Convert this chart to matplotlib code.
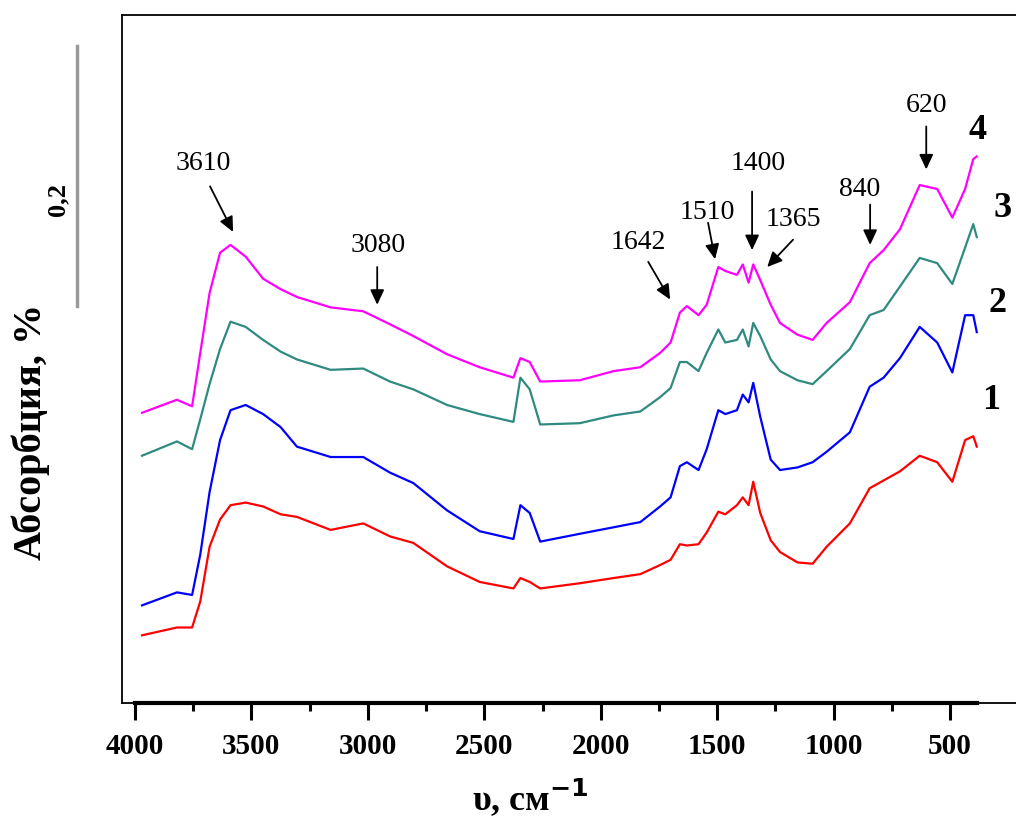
import matplotlib.pyplot as plt
import numpy as np

plt.rcParams['font.family'] = ['Liberation Serif', 'DejaVu Serif']

# волновые числа, см-1
nu = np.array([3970, 3820, 3755, 3720, 3680, 3635, 3590, 3525, 3450, 3375,
               3305, 3160, 3020, 2905, 2805, 2660, 2520, 2375, 2345, 2305,
               2260, 2090, 1945, 1830, 1745, 1700, 1660, 1630, 1580, 1545,
               1495, 1465, 1415, 1390, 1365, 1345, 1315, 1270, 1230, 1155,
               1090, 1030, 930, 845, 785, 715, 630, 555, 490, 435, 400, 385])

# спектры поглощения образцов 1-4
a1 = [0.052, 0.058, 0.058, 0.078, 0.120, 0.141, 0.152, 0.154, 0.151, 0.145,
      0.143, 0.133, 0.138, 0.128, 0.123, 0.105, 0.093, 0.088, 0.096, 0.093,
      0.088, 0.092, 0.096, 0.099, 0.106, 0.110, 0.122, 0.121, 0.122, 0.131,
      0.147, 0.145, 0.152, 0.158, 0.152, 0.170, 0.146, 0.125, 0.116, 0.108,
      0.107, 0.120, 0.138, 0.165, 0.171, 0.178, 0.190, 0.185, 0.170, 0.202,
      0.205, 0.197]
a2 = [0.075, 0.085, 0.083, 0.114, 0.162, 0.202, 0.225, 0.229, 0.222, 0.212,
      0.197, 0.189, 0.189, 0.177, 0.169, 0.148, 0.132, 0.126, 0.152, 0.146,
      0.124, 0.130, 0.135, 0.139, 0.151, 0.158, 0.182, 0.185, 0.179, 0.195,
      0.225, 0.222, 0.225, 0.237, 0.231, 0.246, 0.220, 0.187, 0.179, 0.181,
      0.185, 0.193, 0.208, 0.243, 0.250, 0.265, 0.289, 0.277, 0.254, 0.298,
      0.298, 0.285]
a3 = [0.190, 0.201, 0.195, 0.218, 0.245, 0.272, 0.293, 0.289, 0.279, 0.270,
      0.264, 0.256, 0.257, 0.247, 0.241, 0.229, 0.222, 0.216, 0.250, 0.241,
      0.214, 0.215, 0.221, 0.224, 0.235, 0.242, 0.262, 0.262, 0.255, 0.269,
      0.287, 0.277, 0.279, 0.287, 0.274, 0.292, 0.282, 0.264, 0.255, 0.248,
      0.245, 0.255, 0.272, 0.298, 0.302, 0.320, 0.342, 0.338, 0.322, 0.350,
      0.368, 0.358]
a4 = [0.223, 0.233, 0.228, 0.269, 0.315, 0.346, 0.352, 0.343, 0.326, 0.318,
      0.312, 0.304, 0.301, 0.291, 0.282, 0.268, 0.258, 0.250, 0.265, 0.262,
      0.247, 0.248, 0.255, 0.258, 0.269, 0.277, 0.300, 0.305, 0.298, 0.306,
      0.335, 0.332, 0.329, 0.337, 0.323, 0.337, 0.325, 0.306, 0.292, 0.283,
      0.279, 0.292, 0.308, 0.338, 0.348, 0.364, 0.398, 0.395, 0.373, 0.395,
      0.418, 0.420]

spectra = [a1, a2, a3, a4]
colors = ['#ff0000', '#0000ff', '#2f8a80', '#ff00ff']
curve_names = ['1', '2', '3', '4']
# подписи номеров кривых (ν, A)
name_pos = [(322, 0.233), (296, 0.308), (275, 0.381), (380, 0.441)]

# отмеченные полосы: подпись, (начало стрелки), (конец стрелки), (текст)
peak_labels = ['3610', '3080', '1642', '1510', '1400', '1365', '840', '620']
arrow_from = [(3678, 0.397), (2960, 0.335), (1796, 0.339), (1539, 0.369),
              (1350, 0.393), (1174, 0.356), (843, 0.383), (602, 0.443)]
arrow_to = [(3579, 0.362), (2960, 0.306), (1702, 0.310), (1509, 0.341),
            (1350, 0.348), (1285, 0.335), (843, 0.352), (602, 0.410)]
label_at = [(3708, 0.415), (2956, 0.352), (1839, 0.355), (1543, 0.378),
            (1324, 0.415), (1174, 0.372), (886, 0.395), (602, 0.460)]

fig = plt.figure(figsize=(10.16, 8.2), dpi=100)
ax = fig.add_axes([0.1201, 0.1415, 0.894, 0.8395])

for a, c in zip(spectra, colors):
    ax.plot(nu, a, color=c, lw=1.6)

for name, (x, y) in zip(curve_names, name_pos):
    ax.text(x, y, name, fontsize=26, fontweight='bold', ha='center', va='center')

for lab, p0, p1, pt in zip(peak_labels, arrow_from, arrow_to, label_at):
    ax.annotate('', xy=p1, xytext=p0,
                arrowprops=dict(arrowstyle='-|>,head_length=0.9,head_width=0.42',
                                color='black', lw=1.3, shrinkA=0, shrinkB=0))
    ax.text(pt[0], pt[1], lab, fontsize=20, ha='center', va='center')

ax.set_xlim(4056, 155)
ax.set_ylim(0, 0.529)
ax.set_xticks(np.arange(4000, 499, -500))
ax.set_xticks(np.arange(3750, 700, -500), minor=True)
ax.set_yticks([])
ax.tick_params(axis='x', which='major', length=12, width=2.2, pad=9,
               labelsize=21)
ax.tick_params(axis='x', which='minor', length=6, width=2.2)
for t in ax.get_xticklabels():
    t.set_fontweight('bold')

for s in ['left', 'top', 'right']:
    ax.spines[s].set_linewidth(1.3)
ax.spines['bottom'].set_linewidth(3)
ax.spines['bottom'].set_bounds(4000, nu.min())
ax.axhline(0, color='black', lw=1.3, clip_on=False)

ax.set_xlabel('υ, см$^{\\mathbf{-1}}$', fontsize=26, fontweight='bold')
ax.xaxis.set_label_coords(0.45, -0.105)

# масштабная линейка 0,2 единицы поглощения
ax.plot([-0.05, -0.05], [0.305, 0.505], transform=ax.get_yaxis_transform(),
        color='#9a9a9a', lw=2.5, clip_on=False)
fig.text(0.057, 1 - 200 / 820, '0,2', rotation=90, fontsize=19,
         fontweight='bold', ha='center', va='center')
fig.text(0.030, 1 - 432 / 820, 'Абсорбция, %', rotation=90, fontsize=29,
         fontweight='bold', ha='center', va='center')

fig.savefig('out.png', dpi=100)
